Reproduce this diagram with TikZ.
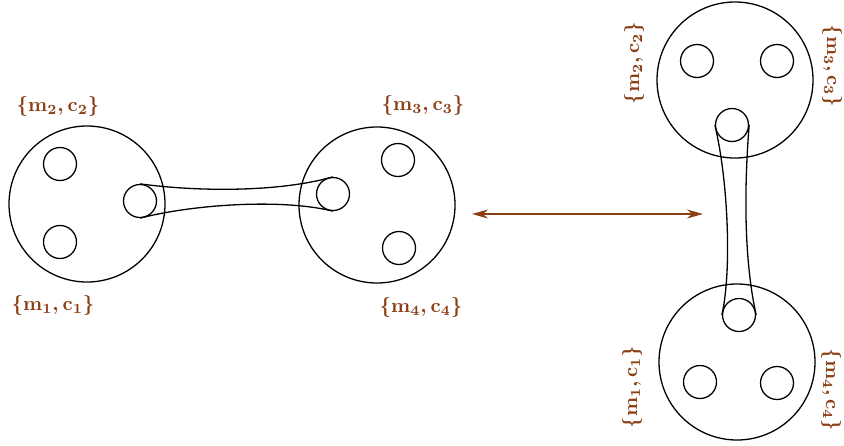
\documentclass[tikz,border=0pt]{standalone}
\usepackage{amsmath}
\usepackage{xcolor}
\usetikzlibrary{arrows.meta}
\definecolor{labelbrown}{RGB}{139,62,20}

\begin{document}
\begin{tikzpicture}[
  x=0.5pt,y=-0.5pt,
  big/.style={draw,circle,minimum size=78pt,inner sep=0pt,line width=0.65pt},
  small/.style={draw,circle,minimum size=16.5pt,inner sep=0pt,line width=0.65pt},
  tube/.style={line width=0.65pt},
  lbl/.style={text=labelbrown,font=\boldmath,inner sep=0pt},
  arr/.style={{Stealth[length=8pt,width=4.5pt,inset=2.5pt]}-{Stealth[length=8pt,width=4.5pt,inset=2.5pt]},labelbrown,line width=0.65pt},
]
\useasboundingbox (0,0) rectangle (844,445);
% left pair
\node[big] (gA) at (87,204) {};
\node[small] (a2) at (60,164) {};
\node[small] (a1) at (60,242) {};
\node[small] (aL) at (140,201) {};
\node[big] (gB) at (377,205) {};
\node[small] (b3) at (398,160) {};
\node[small] (b4) at (399,248) {};
\node[small] (bL) at (333,194) {};
\draw[tube] (aL.north) .. controls (200,192) and (280,192) .. (bL.north);
\draw[tube] (aL.south) .. controls (190,205) and (280,198) .. (bL.south);
\node[lbl] (lA2) at (58,106) {$\{\mathbf{m_2},\mathbf{c_2}\}$};
\node[lbl] (lA1) at (53,305) {$\{\mathbf{m_1},\mathbf{c_1}\}$};
\node[lbl] (lB3) at (423,105) {$\{\mathbf{m_3},\mathbf{c_3}\}$};
\node[lbl] (lB4) at (421,307) {$\{\mathbf{m_4},\mathbf{c_4}\}$};
% arrow
\coordinate (arL) at (472,214);
\coordinate (arR) at (703,214);
\draw[arr] (arL) -- (arR);
% right pair
\node[big] (gC) at (735,80) {};
\node[small] (c2) at (697,61) {};
\node[small] (c3) at (777,61) {};
\node[small] (cL) at (732,125) {};
\node[big] (gD) at (737,362) {};
\node[small] (d1) at (700,382) {};
\node[small] (d4) at (777,383) {};
\node[small] (dL) at (739,315) {};
\draw[tube] (cL.west) .. controls (728,180) and (732,270) .. (dL.west);
\draw[tube] (cL.east) .. controls (744,190) and (744,260) .. (dL.east);
\node[lbl,rotate=90] (lC2) at (634,63) {$\{\mathbf{m_2},\mathbf{c_2}\}$};
\node[lbl,rotate=-90] (lC3) at (832,66) {$\{\mathbf{m_3},\mathbf{c_3}\}$};
\node[lbl,rotate=90] (lD1) at (632,387) {$\{\mathbf{m_1},\mathbf{c_1}\}$};
\node[lbl,rotate=-90] (lD4) at (831,390) {$\{\mathbf{m_4},\mathbf{c_4}\}$};
\end{tikzpicture}
\end{document}
